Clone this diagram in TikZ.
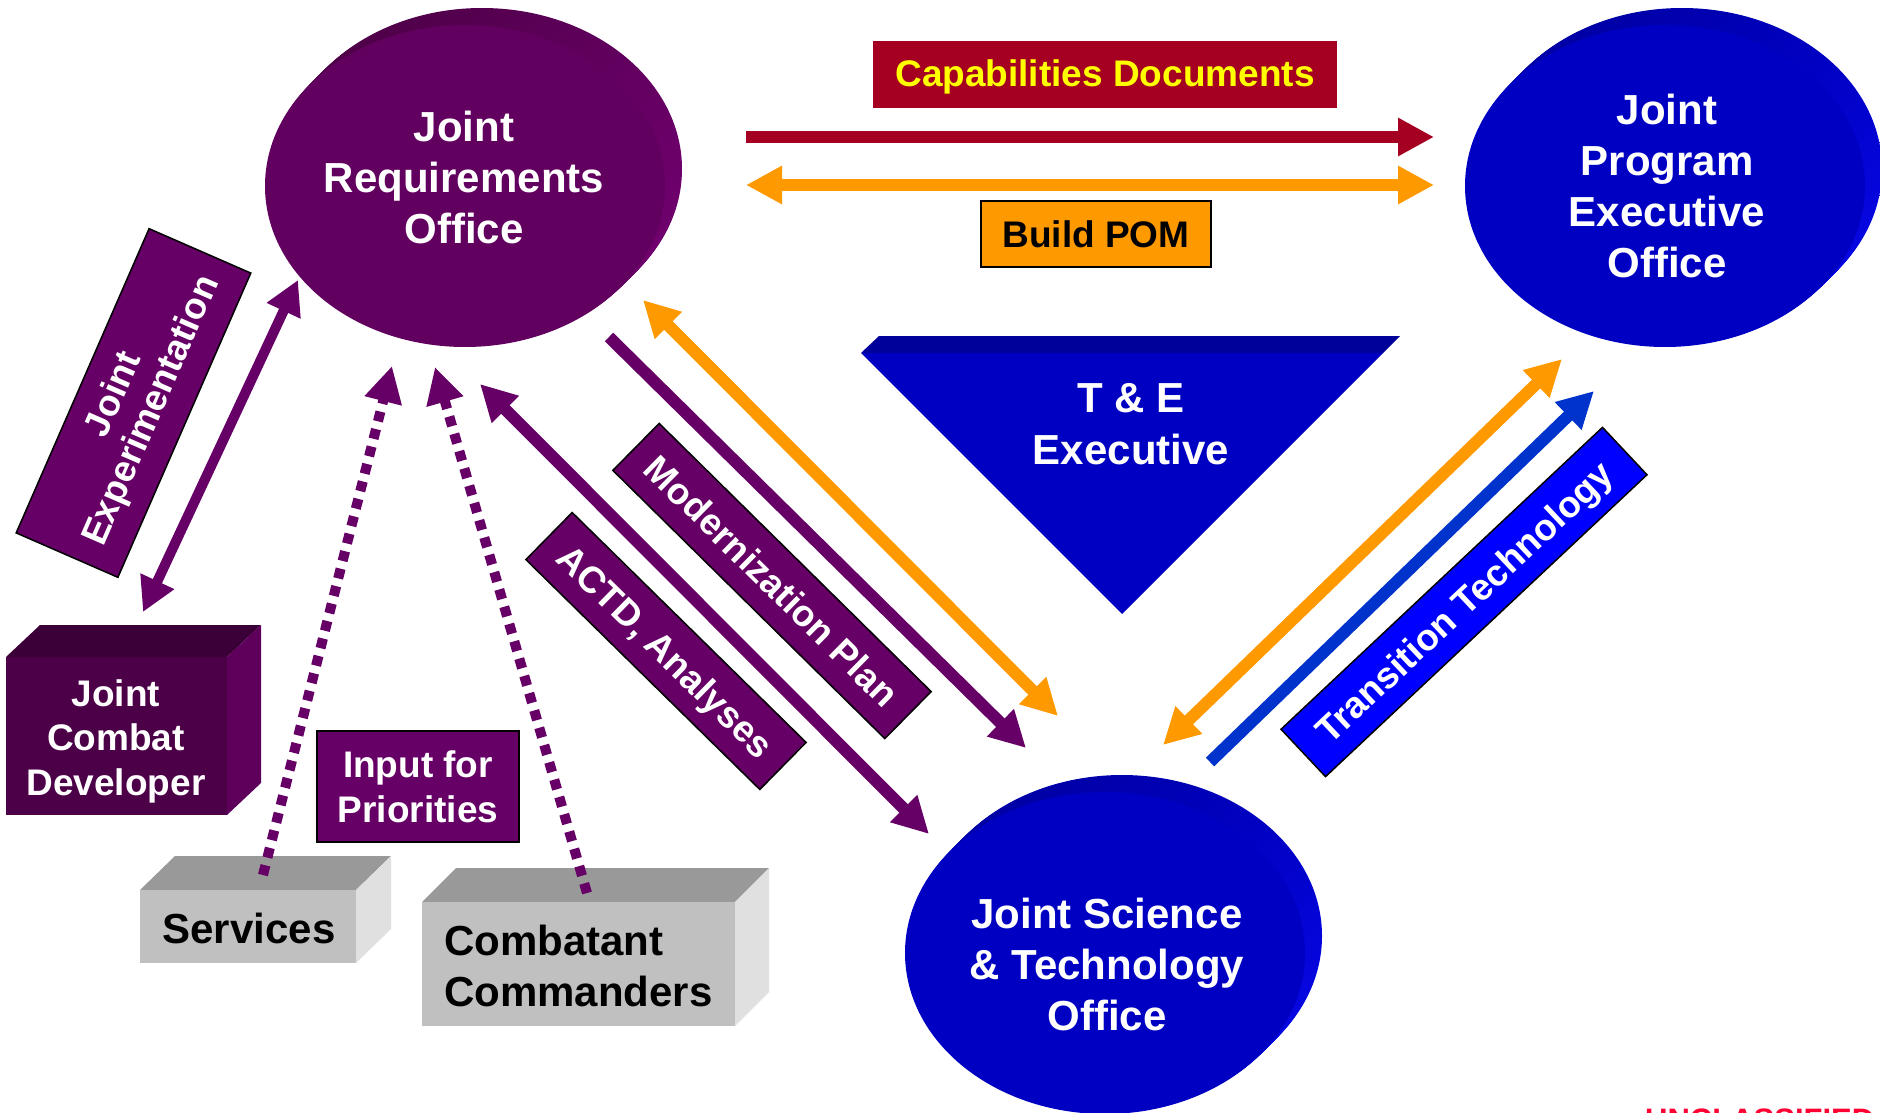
\documentclass[tikz,border=0pt]{standalone}
\usepackage{fontspec}
\setmainfont{Liberation Sans}
\usetikzlibrary{arrows.meta,shapes.geometric,shadings}
\definecolor{pface}{HTML}{620060}
\definecolor{pdark}{HTML}{48003F}
\definecolor{plight}{HTML}{760074}
\definecolor{lpurple}{HTML}{660066}
\definecolor{bface}{HTML}{0000C2}
\definecolor{bdark}{HTML}{00009A}
\definecolor{blight}{HTML}{0A0AF0}
\definecolor{capred}{HTML}{A50021}
\definecolor{capyel}{HTML}{FFFF00}
\definecolor{pom}{HTML}{FF9900}
\definecolor{tblue}{HTML}{0033CC}
\definecolor{ttbox}{HTML}{0000FF}
\definecolor{jcdfront}{HTML}{4B0048}
\definecolor{jcdtop}{HTML}{3C0038}
\definecolor{jcdside}{HTML}{5E005B}
\definecolor{gtop}{HTML}{999999}
\definecolor{gfront}{HTML}{C0C0C0}
\definecolor{gside}{HTML}{E0E0E0}
\definecolor{unred}{HTML}{FF0033}
\newcommand\extrude[5]{%
  \foreach \k in {17,16,...,1}{%
    \shade[upper left=#3, lower right=#4, upper right=#5, lower left=#5]
      (#1+\k,#2-\k) ellipse [x radius=200, y radius=161];}}
\begin{document}
\begin{tikzpicture}[x=1pt,y=-1pt,
  big/.style={font=\bfseries\fontsize{42pt}{51pt}\selectfont, text=white, align=center, inner sep=0pt},
  lbl/.style={font=\bfseries\fontsize{37pt}{44pt}\selectfont, text=white, align=center, inner sep=0pt},
  tagbox/.style={draw=black, line width=1.5pt, fill=lpurple, inner sep=0pt},
  rottag/.style={tagbox, lbl, minimum height=66pt, text height=26.5pt, text depth=0pt},
  oval/.style={ellipse, minimum width=400pt, minimum height=322pt, inner sep=0pt},
  fat/.style={line width=12pt},
  one/.style={-{Triangle[length=36pt,width=36pt]}},
  two/.style={{Triangle[length=36pt,width=36pt]}-{Triangle[length=36pt,width=36pt]}},
  dots/.style={line width=10pt, dash pattern=on 10pt off 8pt, lpurple},
]
\clip (0,0) rectangle (1880,1113);
\fill[white] (0,0) rectangle (1880,1113);

% ---- ellipses
\extrude{465}{186}{pdark}{plight}{pface}
\node[oval, fill=pface] (jro) at (465,186) {};
\extrude{1665}{186}{bdark}{blight}{bface}
\node[oval, fill=bface] (jpeo) at (1665,186) {};
\extrude{1105}{953}{bdark}{blight}{bface}
\node[oval, fill=bface] (jsto) at (1105,953) {};

% ---- T&E triangle
\fill[bdark] (861,353) -- (879,336) -- (1400,336) -- (1383,353) -- cycle;
\fill[bface] (861,353) -- (1383,353) -- (1122,614) -- cycle;

% ---- cubes
\fill[jcdtop] (6,657) -- (40,625) -- (261,625) -- (227,657) -- cycle;
\fill[jcdside] (227,657) -- (261,625) -- (261,783) -- (227,815) -- cycle;
\node[fill=jcdfront, anchor=north west, minimum width=221pt, minimum height=158pt, inner sep=0pt] (jcd) at (6,657) {};

\fill[gtop] (140,890) -- (175,856) -- (391,856) -- (356,890) -- cycle;
\fill[gside] (356,890) -- (391,856) -- (391,929) -- (356,963) -- cycle;
\node[fill=gfront, anchor=north west, minimum width=216pt, minimum height=73pt, inner sep=0pt] (serv) at (140,890) {};

\fill[gtop] (422,902) -- (456,868) -- (769,868) -- (735,902) -- cycle;
\fill[gside] (735,902) -- (769,868) -- (769,992) -- (735,1026) -- cycle;
\node[fill=gfront, anchor=north west, minimum width=313pt, minimum height=124pt, inner sep=0pt] (comm) at (422,902) {};

% ---- connector ends
\coordinate (c1) at (746,137);  \coordinate (c2) at (1434,137);
\coordinate (p1) at (746,185);  \coordinate (p2) at (1434,185);
\coordinate (je1) at (298,280); \coordinate (je2) at (143,612);
\coordinate (sv1) at (263,875); \coordinate (sv2) at (392,366);
\coordinate (cc1) at (587,893); \coordinate (cc2) at (435,367);
\coordinate (a1) at (480,384);  \coordinate (a2) at (929,834);
\coordinate (m1) at (609,337);  \coordinate (m2) at (1026,748);
\coordinate (o1) at (643,300);  \coordinate (o2) at (1058,716);
\coordinate (o3) at (1562,359); \coordinate (o4) at (1163,745);
\coordinate (b1) at (1210,762); \coordinate (b2) at (1594,391);

% ---- connectors
\draw[capred, fat, one] (c1) -- (c2);
\draw[pom, fat, two] (p1) -- (p2);
\draw[lpurple, line width=10pt, {Triangle[length=34pt,width=35pt]}-{Triangle[length=34pt,width=35pt]}] (je1) -- (je2);
\draw[dots, one] (sv1) -- (sv2);
\draw[dots, one] (cc1) -- (cc2);
\draw[lpurple, fat, two] (a1) -- (a2);
\draw[lpurple, fat, one] (m1) -- (m2);
\draw[pom, fat, two] (o1) -- (o2);
\draw[pom, fat, two] (o3) -- (o4);
\draw[tblue, fat, one] (b1) -- (b2);

% ---- label boxes
\node[fill=capred, minimum width=464pt, minimum height=67pt, inner sep=0pt] (capbox) at (1105,74.5) {};
\node[lbl, text=capyel, anchor=base] (captxt) at (1105,87) {Capabilities Documents};
\node[fill=pom, draw=black, line width=1.5pt, minimum width=230pt, minimum height=66pt, inner sep=0pt] (pombox) at (1096,234) {};
\node[lbl, text=black, anchor=base] (pomtxt) at (1096,247) {Build POM};

\node[tagbox, lbl, rotate=66.4, minimum width=332pt, minimum height=111pt, font=\bfseries\fontsize{37pt}{41pt}\selectfont] (jexp) at (133.5,403) {Joint\\Experimentation};
\node[rottag, rotate=-44.6, minimum width=382pt] (modp) at (772,581) {Modernization Plan};
\node[rottag, rotate=-44.5, minimum width=328pt] (actd) at (666,651) {ACTD, Analyses};
\node[rottag, fill=ttbox, rotate=43.2, minimum width=441pt, minimum height=65pt] (trans) at (1464,602) {Transition Technology};
\node[tagbox, lbl, minimum width=202pt, minimum height=111pt, font=\bfseries\fontsize{37pt}{45pt}\selectfont] (inp) at (418,786.5) {Input for\\Priorities};

% ---- texts
\node[big] (jrot) at (464,177) {Joint\\Requirements\\Office};
\node[big] (jpeot) at (1667,186) {Joint\\Program\\Executive\\Office};
\node[big] (jstot) at (1107,964) {Joint Science\\\& Technology\\Office};
\node[big, font=\bfseries\fontsize{42pt}{52pt}\selectfont] (tet) at (1131,424) {T \& E\\Executive};
\node[lbl, font=\bfseries\fontsize{37pt}{44.5pt}\selectfont] (jcdt) at (116,741) {Joint\\Combat\\Developer};
\node[big, text=black] (servt) at (249,928) {Services};
\node[big, text=black, align=left, anchor=west] (commt) at (444,966) {Combatant\\Commanders};
\node[anchor=base west, text=unred, font=\bfseries\fontsize{31pt}{31pt}\selectfont, inner sep=0pt] (uncl) at (1645,1130) {UNCLASSIFIED};
\end{tikzpicture}
\end{document}
